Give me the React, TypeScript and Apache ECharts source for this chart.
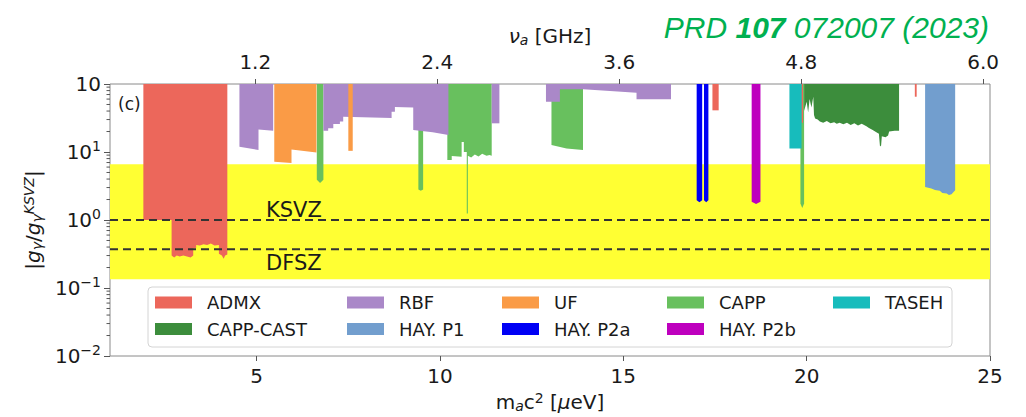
import React, { useEffect, useRef } from 'react';
import * as echarts from 'echarts';

// ---------- axes ----------
const X_MIN = 1;
const X_MAX = 25;
const Y_MIN = 0.01;
const Y_MAX = 100;
const X_TICKS = [5, 10, 15, 20, 25];
const NU_TICKS = [1.2, 2.4, 3.6, 4.8, 6.0];
const UEV_PER_GHZ = 4.13567;
const MINOR_TICKS = [
  0.02, 0.03, 0.04, 0.05, 0.06, 0.07, 0.08, 0.09,
  0.2, 0.3, 0.4, 0.5, 0.6, 0.7, 0.8, 0.9,
  2, 3, 4, 5, 6, 7, 8, 9,
  20, 30, 40, 50, 60, 70, 80, 90,
];

// ---------- model band & lines ----------
const BAND = [0.134, 6.63];
const KSVZ_LEVEL = [1.0];
const DFSZ_LEVEL = [0.37];

// ---------- exclusion limits [m_a (ueV), |g/g_KSVZ|], one array per contiguous block ----------
const ADMX_BLOCKS = [
  [[1.91, 1.0], [2.68, 1.0], [2.68, 0.3], [2.75, 0.28], [2.82, 0.3], [2.9, 0.29], [3.0, 0.3], [3.1, 0.29],
   [3.2, 0.28], [3.27, 0.3], [3.27, 0.38], [3.35, 0.39], [3.35, 0.43], [3.45, 0.42], [3.55, 0.44], [3.65, 0.43],
   [3.75, 0.45], [3.85, 0.42], [3.97, 0.43], [3.97, 0.32], [4.05, 0.3], [4.1, 0.27], [4.14, 0.3], [4.2, 0.31]],
  [[17.43, 41], [17.6, 41]],
  [[19.86, 27], [19.9, 27]],
  [[22.95, 65], [23.0, 65]],
];
const RBF_BLOCKS = [
  [[4.53, 11.9], [5.05, 10.7], [5.05, 21.5], [5.45, 20.5]],
  [[6.82, 20.6], [6.95, 20.6], [6.95, 22.3], [7.09, 22.3], [7.09, 25.8], [7.27, 25.8], [7.27, 28], [7.36, 28],
   [7.36, 33], [8.68, 31.5], [8.68, 39], [8.77, 39], [8.77, 46], [9.27, 45], [9.27, 21], [9.8, 19.5], [10.23, 17.8]],
  [[11.41, 26.4], [11.62, 26.4]],
  [[12.89, 55], [13.27, 55], [13.27, 83.6], [13.91, 83.6], [15.36, 74.5], [15.36, 59.6], [16.3, 59.6]],
];
const UF_BLOCKS = [
  [[5.48, 7.2], [5.95, 6.9], [5.95, 10.9], [6.63, 9.8]],
  [[7.5, 10.4], [7.62, 10.4]],
];
const CAPP_BLOCKS = [
  [[6.64, 3.9], [6.73, 3.5], [6.82, 3.9]],
  [[9.41, 2.8], [9.475, 2.7], [9.54, 2.8]],
  [[10.2, 7.6], [10.32, 7.6], [10.32, 8.7], [10.59, 8.5], [10.59, 14], [10.65, 14], [10.65, 10], [10.73, 10],
   [10.73, 1.25], [10.76, 1.25], [10.76, 8.8], [10.85, 8.3], [10.95, 9.2], [11.05, 8.6], [11.15, 9.4],
   [11.27, 8.8], [11.35, 9.0], [11.41, 8.8]],
  [[13.04, 12.7], [13.45, 11.3], [13.9, 10.7]],
  [[19.83, 1.75], [19.88, 1.5], [19.93, 1.75]],
];
const TASEH_BLOCKS = [
  [[19.53, 11.3], [19.86, 11.3]],
];
const CAPP_CAST_BLOCKS = [
  [[19.93, 40], [20.0, 55], [20.04, 38], [20.08, 60], [20.13, 45], [20.18, 65], [20.2, 35], [20.23, 31],
   [20.3, 30], [20.36, 28], [20.45, 27], [20.55, 28.5], [20.65, 26.5], [20.75, 27.5], [20.82, 26], [20.9, 27],
   [21.0, 25.5], [21.1, 27], [21.2, 25], [21.3, 26.5], [21.4, 24.5], [21.5, 26], [21.63, 24], [21.7, 22.5],
   [21.8, 21], [21.9, 19.5], [21.97, 18.5], [22.0, 12], [22.03, 12.5], [22.05, 17], [22.15, 16.5],
   [22.22, 17.5], [22.25, 20], [22.4, 20.5], [22.52, 20.5]],
];
const HAY_P1_BLOCKS = [
  [[23.23, 3.05], [23.4, 2.9], [23.5, 2.76], [23.63, 2.7], [23.7, 2.5], [23.82, 2.45], [23.88, 2.33],
   [23.95, 2.4], [24.05, 2.75]],
];
const HAY_P2A_BLOCKS = [
  [[17.0, 1.95], [17.075, 1.82], [17.15, 1.95]],
  [[17.2, 1.95], [17.26, 1.82], [17.32, 1.95]],
];
const HAY_P2B_BLOCKS = [
  [[18.5, 1.85], [18.62, 1.72], [18.74, 1.85]],
];

const EXPERIMENTS = [
  { name: 'CAPP', color: '#68C05E', blocks: CAPP_BLOCKS, z: 2 },
  { name: 'RBF', color: '#AA88C8', blocks: RBF_BLOCKS, z: 3 },
  { name: 'UF', color: '#FA9B46', blocks: UF_BLOCKS, z: 4 },
  { name: 'ADMX', color: '#EC675B', blocks: ADMX_BLOCKS, z: 5 },
  { name: 'TASEH', color: '#17BCBC', blocks: TASEH_BLOCKS, z: 5 },
  { name: 'CAPP-CAST', color: '#3C8D3C', blocks: CAPP_CAST_BLOCKS, z: 5 },
  { name: 'HAY. P1', color: '#729ECE', blocks: HAY_P1_BLOCKS, z: 5 },
  { name: 'HAY. P2a', color: '#0000F5', blocks: HAY_P2A_BLOCKS, z: 5 },
  { name: 'HAY. P2b', color: '#BE00BE', blocks: HAY_P2B_BLOCKS, z: 5 },
];

const LEGEND_ORDER = [
  ['ADMX', 'RBF', 'UF', 'CAPP', 'TASEH'],
  ['CAPP-CAST', 'HAY. P1', 'HAY. P2a', 'HAY. P2b'],
];

const FONT = 'DejaVu Sans';
const TEXT = '#1a1a1a';

const RICH = {
  n: { fontSize: 20, fontFamily: FONT, color: TEXT, lineHeight: 22 },
  it: { fontSize: 20, fontFamily: FONT, fontStyle: 'italic', color: TEXT, lineHeight: 22 },
  sub: { fontSize: 14, fontFamily: FONT, fontStyle: 'italic', color: TEXT, lineHeight: 12, verticalAlign: 'bottom' },
  sup: { fontSize: 14, fontFamily: FONT, fontStyle: 'italic', color: TEXT, lineHeight: 12, verticalAlign: 'top' },
  supn: { fontSize: 14, fontFamily: FONT, color: TEXT, lineHeight: 12, verticalAlign: 'top' },
};

function buildOption() {
  const series: any[] = [];

  series.push({
    type: 'custom',
    name: 'band',
    silent: true,
    z: 1,
    data: [[X_MIN, BAND[0], X_MAX, BAND[1]]],
    encode: { x: [0, 2], y: [1, 3] },
    renderItem: (_p: any, api: any) => {
      const a = api.coord([api.value(0), api.value(3)]);
      const b = api.coord([api.value(2), api.value(1)]);
      return {
        type: 'rect',
        shape: { x: a[0], y: a[1], width: b[0] - a[0], height: b[1] - a[1] },
        style: { fill: '#FFFF33' },
      };
    },
  });

  EXPERIMENTS.forEach((exp) => {
    exp.blocks.forEach((block) => {
      series.push({
        type: 'line',
        name: exp.name,
        data: block,
        symbol: 'none',
        showSymbol: false,
        silent: true,
        z: exp.z,
        lineStyle: { width: 0, color: exp.color },
        itemStyle: { color: exp.color },
        areaStyle: { color: exp.color, opacity: 1, origin: 'end' },
        emphasis: { disabled: true },
      });
    });
  });

  [KSVZ_LEVEL[0], DFSZ_LEVEL[0]].forEach((lvl, i) => {
    series.push({
      type: 'line',
      name: i === 0 ? 'KSVZ line' : 'DFSZ line',
      data: [[X_MIN, lvl], [X_MAX, lvl]],
      symbol: 'none',
      silent: true,
      z: 8,
      lineStyle: { color: '#333333', width: 2, type: [8, 5] },
      emphasis: { disabled: true },
    });
  });

  series.push({
    type: 'custom',
    name: 'minor',
    silent: true,
    z: 9,
    clip: false,
    data: MINOR_TICKS.map((v) => [X_MIN, v]),
    renderItem: (_p: any, api: any) => {
      const p = api.coord([api.value(0), api.value(1)]);
      return {
        type: 'line',
        shape: { x1: p[0] - 3.5, y1: p[1], x2: p[0], y2: p[1] },
        style: { stroke: '#555', lineWidth: 1 },
      };
    },
  });

  const COLS = [155, 347, 502, 667, 833];
  const ROWS = [292.5, 319];
  const legends: any[] = [];
  LEGEND_ORDER.forEach((row, r) => {
    row.forEach((name, c) => {
      legends.push({
        data: [{ name, icon: 'rect' }],
        left: COLS[c],
        top: ROWS[r],
        padding: 0,
        itemWidth: 37,
        itemHeight: 12,
        selectedMode: false,
        itemStyle: { borderWidth: 0 },
        textStyle: { fontSize: 18, fontFamily: FONT, color: TEXT, lineHeight: 20, padding: [0, 0, 0, 10] },
      });
    });
  });

  return {
    animation: false,
    backgroundColor: '#ffffff',
    title: {
      text: '{a|PRD }{b|107}{a| 072007 (2023)}',
      right: 32,
      top: 7,
      textStyle: {
        fontWeight: 'normal',
        rich: {
          a: { fontSize: 30, fontFamily: 'Liberation Sans', fontStyle: 'italic', fontWeight: 'normal', color: '#00B050' },
          b: { fontSize: 30, fontFamily: 'Liberation Sans', fontStyle: 'italic', fontWeight: 'bold', color: '#00B050' },
        },
      },
    },
    grid: {
      left: 110,
      right: 36,
      top: 84,
      bottom: 61,
      show: true,
      borderColor: '#8a8a8a',
      borderWidth: 1,
      backgroundColor: 'transparent',
      outerBoundsMode: 'none',
      containLabel: false,
    },
    legend: legends,
    xAxis: [
      {
        type: 'value',
        min: X_MIN,
        max: X_MAX,
        position: 'bottom',
        axisLine: { show: false },
        splitLine: { show: false },
        axisTick: { show: true, inside: false, length: 5, customValues: X_TICKS, lineStyle: { color: '#555' } },
        axisLabel: { customValues: X_TICKS, margin: 10, fontSize: 20, fontFamily: FONT, color: TEXT },
        name: '{n|m}{sub|a}{n|c}{supn|2}{n| [}{it|μ}{n|eV]}',
        nameLocation: 'middle',
        nameGap: 33,
        nameTextStyle: { rich: RICH },
      },
      {
        type: 'value',
        min: X_MIN / UEV_PER_GHZ,
        max: X_MAX / UEV_PER_GHZ,
        position: 'top',
        axisLine: { show: false },
        splitLine: { show: false },
        axisTick: { show: true, inside: false, length: 5, customValues: NU_TICKS, lineStyle: { color: '#555' } },
        axisLabel: {
          customValues: NU_TICKS,
          margin: 12,
          fontSize: 20,
          fontFamily: FONT,
          color: TEXT,
          formatter: (v: number) => v.toFixed(1),
        },
        name: '{it|ν}{sub|a}{n| [GHz]}',
        nameLocation: 'middle',
        nameGap: 26,
        nameTextStyle: { rich: RICH },
      },
    ],
    yAxis: {
      type: 'log',
      logBase: 10,
      min: Y_MIN,
      max: Y_MAX,
      axisLine: { show: false },
      splitLine: { show: false },
      minorTick: { show: false },
      axisTick: { show: true, inside: false, length: 6, lineStyle: { color: '#555' } },
      axisLabel: {
        margin: 9,
        formatter: (v: number) => {
          const e = Math.round(Math.log10(v));
          if (e === 2) return '{b|10}';
          return '{b|10}{s|' + (e < 0 ? '\u2212' + -e : String(e)) + '}';
        },
        rich: {
          b: { fontSize: 20, fontFamily: FONT, color: TEXT, lineHeight: 26 },
          s: { fontSize: 14, fontFamily: FONT, color: TEXT, lineHeight: 12, verticalAlign: 'top' },
        },
      },
      name: '{n||}{it|g}{sub|γ}{n|/}{it|g}{sub|γ}{sup|KSVZ}{n||}',
      nameLocation: 'middle',
      nameRotate: 90,
      nameGap: 64,
      nameTextStyle: { rich: RICH },
    },
    graphic: [
      {
        type: 'rect',
        shape: { x: 148, y: 287, width: 804, height: 60, r: 4 },
        style: { fill: 'rgba(255,255,255,0.8)', stroke: '#d4d4d4', lineWidth: 1 },
        z: 0,
        silent: true,
      },
      {
        type: 'text',
        x: 118,
        y: 104,
        style: { text: '(c)', font: `17px "${FONT}"`, fill: TEXT, verticalAlign: 'middle' },
        z: 20,
      },
      {
        type: 'text',
        x: 266,
        y: 210,
        style: { text: 'KSVZ', font: `21px "${FONT}"`, fill: TEXT, verticalAlign: 'middle' },
        z: 20,
      },
      {
        type: 'text',
        x: 266,
        y: 263,
        style: { text: 'DFSZ', font: `21px "${FONT}"`, fill: TEXT, verticalAlign: 'middle' },
        z: 20,
      },
    ],
    series,
  };
}

export default function App() {
  const ref = useRef<HTMLDivElement>(null);
  useEffect(() => {
    if (!ref.current) return;
    const chart = echarts.init(ref.current, undefined, { renderer: 'svg' });
    chart.setOption(buildOption() as any);
    return () => chart.dispose();
  }, []);
  return (
    <div
      ref={ref}
      style={{ position: 'fixed', left: 0, top: 0, width: 1026, height: 417, background: '#fff' }}
    />
  );
}
